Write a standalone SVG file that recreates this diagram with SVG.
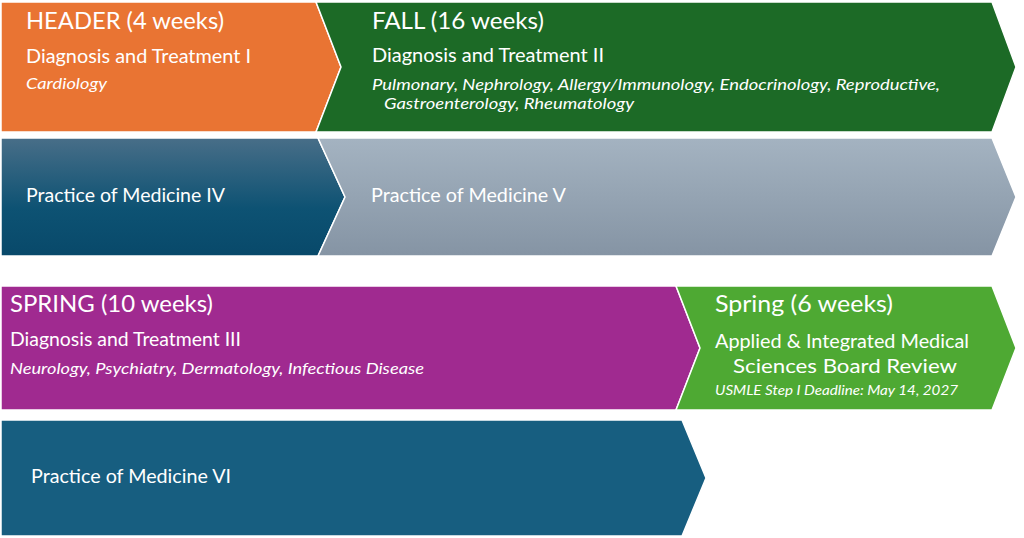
<svg xmlns="http://www.w3.org/2000/svg" width="1024" height="538" viewBox="0 0 1024 538">
<style>
.s{stroke:#fff;stroke-width:1.5}
text{font-family:Lato,"Open Sans","Liberation Sans",sans-serif;fill:#fff}
.h{font-size:24px}
.m{font-size:18.5px}
.i{font-size:16px;font-style:italic}
.sm{font-size:13.5px;font-style:italic}
</style>
<defs>
<linearGradient id="gBlue" x1="0" y1="0" x2="0" y2="1"><stop offset="0" stop-color="#486E88"/><stop offset="0.6" stop-color="#0D5273"/><stop offset="1" stop-color="#08496A"/></linearGradient>
<linearGradient id="gGray" x1="0" y1="0" x2="0" y2="1"><stop offset="0" stop-color="#A4B3C1"/><stop offset="1" stop-color="#8594A4"/></linearGradient>
</defs>
<rect width="1024" height="538" fill="#fff"/>
<g id="header">
<polygon class="s" fill="#E97433" points="1,2 316,2 341,67 316,132 1,132"/>
<text class="h" x="26" y="29" textLength="198" lengthAdjust="spacingAndGlyphs">HEADER (4 weeks)</text>
<text class="m" x="26" y="63" textLength="225" lengthAdjust="spacingAndGlyphs">Diagnosis and Treatment I</text>
<text class="i" x="26" y="89" textLength="81" lengthAdjust="spacingAndGlyphs">Cardiology</text>
</g>
<g id="fall">
<polygon class="s" fill="#1C6A26" points="316,2 992,2 1016,67 992,132 316,132 341,67"/>
<text class="h" x="372" y="29" textLength="172" lengthAdjust="spacingAndGlyphs">FALL (16 weeks)</text>
<text class="m" x="372" y="62" textLength="232" lengthAdjust="spacingAndGlyphs">Diagnosis and Treatment II</text>
<text class="i" x="372" y="90" textLength="568" lengthAdjust="spacingAndGlyphs">Pulmonary, Nephrology, Allergy/Immunology, Endocrinology, Reproductive,</text>
<text class="i" x="384" y="109" textLength="250" lengthAdjust="spacingAndGlyphs">Gastroenterology, Rheumatology</text>
</g>
<g id="pom4">
<polygon class="s" fill="url(#gBlue)" points="1,138 318,138 345,197 318,256 1,256"/>
<text class="m" x="26" y="202" textLength="199" lengthAdjust="spacingAndGlyphs">Practice of Medicine IV</text>
</g>
<g id="pom5">
<polygon class="s" fill="url(#gGray)" points="318,138 992,138 1016,197 992,256 318,256 345,197"/>
<text class="m" x="371" y="202" textLength="195" lengthAdjust="spacingAndGlyphs">Practice of Medicine V</text>
</g>
<g id="spring10">
<polygon class="s" fill="#A02A90" points="1,286 676,286 700,348 676,410 1,410"/>
<text class="h" x="10" y="312" textLength="203" lengthAdjust="spacingAndGlyphs">SPRING (10 weeks)</text>
<text class="m" x="10" y="346" textLength="231" lengthAdjust="spacingAndGlyphs">Diagnosis and Treatment III</text>
<text class="i" x="10" y="374" textLength="414" lengthAdjust="spacingAndGlyphs">Neurology, Psychiatry, Dermatology, Infectious Disease</text>
</g>
<g id="spring6">
<polygon class="s" fill="#4EA933" points="676,286 992,286 1016,348 992,410 676,410 700,348"/>
<text class="h" x="715" y="312" textLength="178" lengthAdjust="spacingAndGlyphs">Spring (6 weeks)</text>
<text class="m" x="715" y="348" textLength="254" lengthAdjust="spacingAndGlyphs">Applied &amp; Integrated Medical</text>
<text class="m" x="733" y="373" textLength="224" lengthAdjust="spacingAndGlyphs">Sciences Board Review</text>
<text class="sm" x="715" y="395" textLength="243" lengthAdjust="spacingAndGlyphs">USMLE Step I Deadline: May 14, 2027</text>
</g>
<g id="pom6">
<polygon class="s" fill="#175E80" points="1,420 682,420 706,478 682,536 1,536"/>
<text class="m" x="31" y="483" textLength="200" lengthAdjust="spacingAndGlyphs">Practice of Medicine VI</text>
</g>
<g id="connectors"></g>
</svg>
